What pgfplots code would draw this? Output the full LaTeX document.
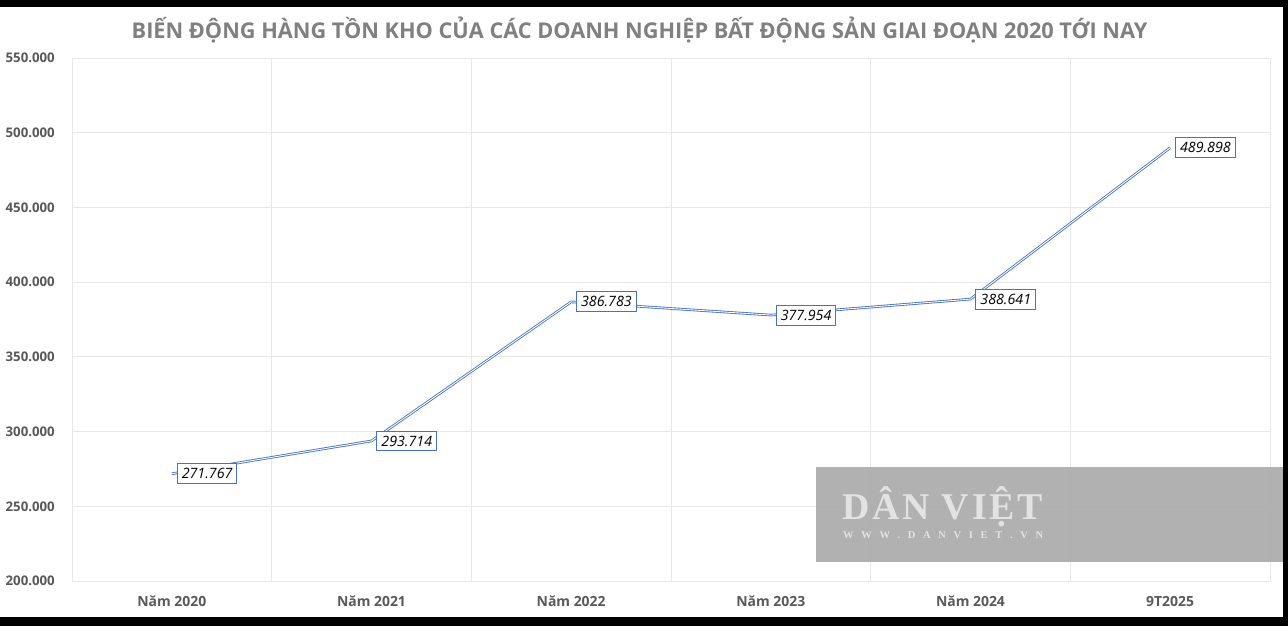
\documentclass[border=0pt]{standalone}
\usepackage{fontspec}
\setmainfont{Open Sans}
\newfontfamily\wmfont{Liberation Serif}
\usepackage{pgfplots}
\pgfplotsset{compat=1.18}
\definecolor{lineblue}{RGB}{68,114,196}
\definecolor{titlegray}{RGB}{128,128,128}
\definecolor{labgray}{RGB}{89,89,89}
\definecolor{gridgray}{RGB}{232,232,232}
\definecolor{wmgray}{RGB}{171,171,171}
\definecolor{wmtext}{RGB}{226,226,226}
\pgfplotstableread{
x y lab
0 271767 271.767
1 293714 293.714
2 386783 386.783
3 377954 377.954
4 388641 388.641
5 489898 489.898
}\datatable
\begin{document}
\begin{tikzpicture}
\fill[black] (0,0) rectangle (1288bp,626bp);
\fill[white] (0,9bp) rectangle (1283bp,619bp);
\begin{axis}[
  at={(72bp,45bp)}, anchor=south west, scale only axis,
  width=1198bp, height=523bp,
  xmin=-0.5, xmax=5.5, ymin=200000, ymax=550000,
  xtick={0,1,2,3,4,5},
  xticklabels={Năm 2020,Năm 2021,Năm 2022,Năm 2023,Năm 2024,9T2025},
  minor xtick={-0.5,0.5,1.5,2.5,3.5,4.5,5.5},
  xminorgrids,
  ytick={200000,250000,300000,350000,400000,450000,500000,550000},
  yticklabels={200.000,250.000,300.000,350.000,400.000,450.000,500.000,550.000},
  ymajorgrids,
  major tick length=0, minor tick length=0,
  grid style={draw=gridgray, line width=0.8bp},
  minor grid style={draw=gridgray, line width=0.8bp},
  axis line style={draw=gridgray, line width=0.8bp},
  scaled y ticks=false,
  yticklabel style={anchor=east, inner sep=0pt, xshift=-17bp, text=labgray, font=\bfseries\fontsize{13.3}{13}\selectfont},
  xticklabel style={anchor=north, inner sep=0pt, yshift=-15bp, text=labgray, font=\bfseries\fontsize{14}{14}\selectfont},
  clip=false,
]
\addplot[lineblue, line width=2.6bp, mark=none] table[x=x, y=y] {\datatable};
\addplot[white, line width=0.9bp, mark=none] table[x=x, y=y] {\datatable};
\addplot[draw=none, mark=none, nodes near coords, point meta=explicit symbolic,
  nodes near coords style={anchor=west, xshift=5bp, draw=lineblue, line width=0.9bp, fill=white, text=black,
    font=\itshape\fontsize{14.3}{14}\selectfont, inner xsep=4.5bp, inner ysep=4.7bp}]
  table[x=x, y=y, meta=lab] {\datatable};
\end{axis}
\fill[wmgray, opacity=0.92] (816bp,64bp) rectangle (1283bp,159bp);
\node[text=wmtext, font=\wmfont\bfseries\fontsize{38}{38}\selectfont, anchor=base west, inner sep=0pt] at (842bp,106bp) {\makebox[201bp][s]{D\hfil Â\hfil N\hskip 9bp plus 1fil V\hfil I\hfil Ệ\hfil T}};
\node[text=wmtext, font=\wmfont\bfseries\fontsize{10.5}{10.5}\selectfont, anchor=base west, inner sep=0pt] at (843bp,87bp) {\makebox[200bp][s]{W W W . D A N V I E T . V N}};
\node[text=titlegray, font=\bfseries\fontsize{21.8}{22}\selectfont, inner sep=0pt] at (639.5bp,596bp) {BIẾN ĐỘNG HÀNG TỒN KHO CỦA CÁC DOANH NGHIỆP BẤT ĐỘNG SẢN GIAI ĐOẠN 2020 TỚI NAY};
\end{tikzpicture}
\end{document}
